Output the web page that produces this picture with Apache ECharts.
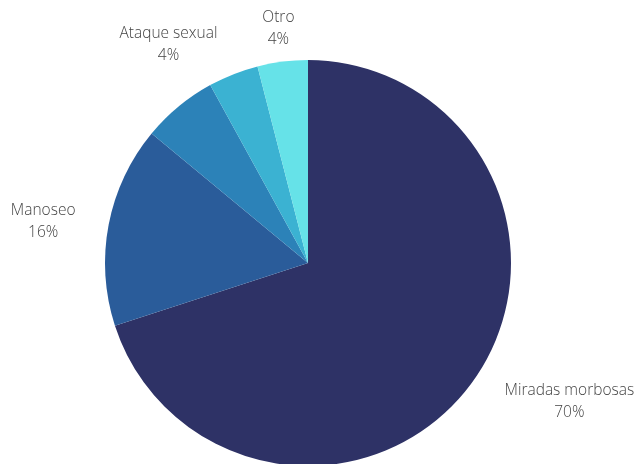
<!DOCTYPE html>
<html><head><meta charset="utf-8">
<script src="https://cdn.jsdelivr.net/npm/echarts@6/dist/echarts.min.js"></script>
<style>html,body{margin:0;padding:0;background:#fff}#c{width:634px;height:464px}</style>
</head><body><div id="c"></div>
<script>
const categories = ['Miradas morbosas', 'Manoseo', 'Otras formas', 'Ataque sexual', 'Otro'];
const values = [70, 16, 6, 4, 4];
const showLabel = [true, true, false, true, true];
const colors = ['#2e3266', '#2a5c9a', '#2c82b8', '#3bb2d2', '#66e2e8'];
// label placement styling: radial distance (px) and angular nudge (deg)
const labelDist = [296, 268, 0, 259, 236];
const labelNudge = [-8, -2, 0, -11, 0];
const CX = 308, CY = 263, R = 203;
const total = values.reduce((a, b) => a + b, 0);
const mids = [];
let acc = 0;
values.forEach(v => { mids.push((acc + v / 2) / total * 360); acc += v; });

const chart = echarts.init(document.getElementById('c'));
chart.setOption({
  animation: false,
  series: [{
    type: 'pie',
    center: [CX, CY],
    radius: R,
    startAngle: 90,
    clockwise: true,
    avoidLabelOverlap: false,
    data: categories.map((n, i) => ({
      name: n, value: values[i],
      itemStyle: { color: colors[i] },
      label: { show: showLabel[i] }
    })),
    itemStyle: { borderWidth: 0 },
    label: {
      position: 'outside',
      formatter: p => p.name + '\n' + Math.round(p.percent) + '%',
      fontFamily: 'Open Sans',
      fontWeight: 300,
      fontSize: 15.5,
      lineHeight: 22,
      color: '#444',
      align: 'center',
      overflow: 'none',
      width: 200
    },
    labelLine: { show: false },
    labelLayout: function (p) {
      const i = p.dataIndex;
      const a = (mids[i] + labelNudge[i]) * Math.PI / 180;
      return {
        x: CX + labelDist[i] * Math.sin(a),
        y: CY - labelDist[i] * Math.cos(a),
        align: 'center',
        verticalAlign: 'middle'
      };
    }
  }]
});
</script></body></html>
